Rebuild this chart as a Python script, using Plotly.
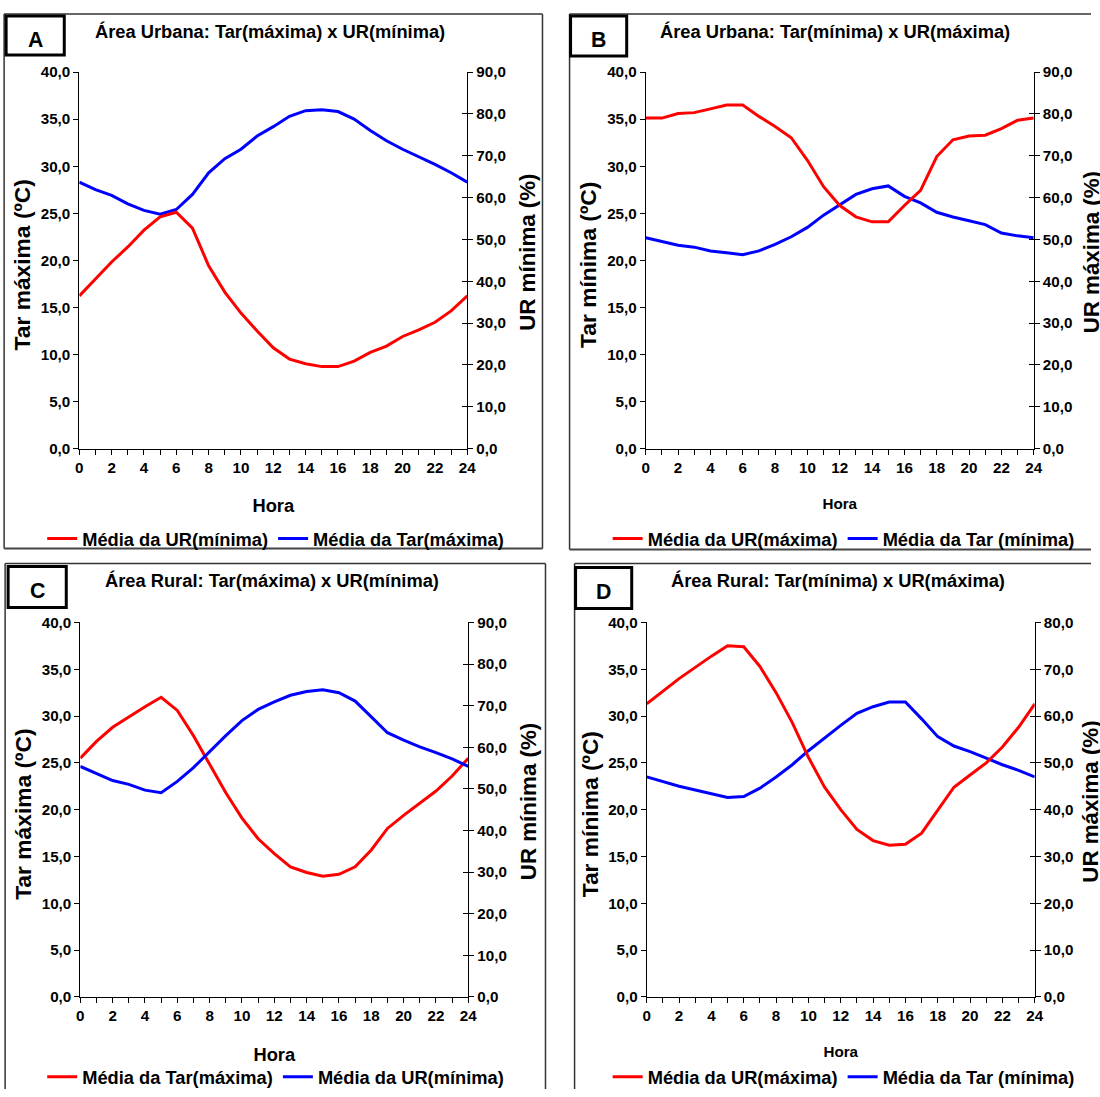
import plotly.graph_objects as go

# Hourly means (hours 0..24)
hours = list(range(25))

# Panel A – urban area: Tar(máxima) in ºC, UR(mínima) in %
a_tar_max = [28.3, 27.5, 26.9, 26.0, 25.3, 24.9, 25.4, 27.0, 29.3, 30.8, 31.8, 33.2, 34.2,
             35.3, 35.9, 36.0, 35.8, 35.0, 33.8, 32.7, 31.8, 31.0, 30.2, 29.3, 28.3]
a_ur_min = [36.5, 40.5, 44.6, 48.2, 52.2, 55.4, 56.5, 52.7, 43.7, 37.4, 32.4, 28.1, 24.1,
            21.4, 20.3, 19.6, 19.6, 20.9, 23.0, 24.5, 26.8, 28.4, 30.2, 32.9, 36.5]

# Panel B – urban area: Tar(mínima) in ºC, UR(máxima) in %
b_tar_min = [22.4, 22.0, 21.6, 21.4, 21.0, 20.8, 20.6, 21.0, 21.7, 22.5, 23.5, 24.8, 25.9,
             27.0, 27.6, 27.9, 26.8, 26.1, 25.1, 24.6, 24.2, 23.8, 22.9, 22.6, 22.4]
b_ur_max = [79.0, 79.0, 80.1, 80.3, 81.2, 82.1, 82.1, 79.4, 77.0, 74.3, 68.9, 62.6, 58.1,
            55.4, 54.2, 54.2, 58.1, 61.7, 69.8, 73.8, 74.7, 74.9, 76.5, 78.5, 79.0]

# Panel C – rural area: Tar(máxima) in ºC, UR(mínima) in %
c_tar_max = [25.5, 27.3, 28.8, 29.9, 31.0, 32.0, 30.6, 27.9, 24.8, 21.8, 19.1, 16.9, 15.3,
             13.9, 13.3, 12.9, 13.1, 13.9, 15.7, 18.0, 19.4, 20.7, 22.0, 23.6, 25.5]
c_ur_min = [55.4, 53.6, 52.0, 51.1, 49.7, 49.1, 51.8, 55.1, 59.0, 62.8, 66.4, 69.1, 70.9,
            72.5, 73.4, 73.8, 73.1, 71.1, 67.3, 63.5, 61.7, 60.1, 58.7, 57.2, 55.4]

# Panel D – rural area: Tar(mínima) in ºC, UR(máxima) in %
d_tar_min = [23.5, 23.0, 22.5, 22.1, 21.7, 21.3, 21.4, 22.3, 23.5, 24.8, 26.3, 27.7, 29.0,
             30.3, 31.0, 31.5, 31.5, 29.7, 27.8, 26.8, 26.2, 25.5, 24.8, 24.2, 23.5]
d_ur_max = [62.6, 65.4, 68.0, 70.4, 72.8, 75.0, 74.8, 70.6, 65.0, 58.6, 51.2, 44.8, 40.0,
            35.8, 33.4, 32.4, 32.6, 35.0, 40.0, 44.8, 47.4, 50.0, 53.4, 57.6, 62.6]

W, H = 1100, 1097
OFF = 8                                  # default body margin around the plot div
SX, SY = W / (W + 2 * OFF), H / (H + 2 * OFF)   # page is shown shrunk to the window
K = 1 / SX                               # size factor for fonts and line widths
FONT = "Liberation Sans, Arial, sans-serif"
RED, BLUE = "#ff0000", "#0000ff"


def fx(px):
    return min(max((px / SX - OFF) / W, 0.0), 1.0)


def fy(py):
    return min(max(1 - (py / SY - OFF) / H, 0.0), 1.0)


def fs(v):
    return round(v * K, 1)


panels = [
    dict(letter="A", title="Área Urbana: Tar(máxima) x UR(mínima)",
         frame=(8, 13, 545, 548), sides="tlrb", box=(10, 15, 68, 54), title_xy=(273, 31),
         plot=(83, 71, 470, 448),
         ltitle="Tar máxima (ºC)", rtitle="UR mínima (%)", rtitle_x=530, rmax=90,
         hora=18, hora_gap=24,
         series=[("Média da UR(mínima)", a_ur_min, RED, "right"),
                 ("Média da Tar(máxima)", a_tar_max, BLUE, "left")],
         legend_x=46, legend_y=538),
    dict(letter="B", title="Área Urbana: Tar(mínima) x UR(máxima)",
         frame=(572, 13, 1110, 549), sides="tlb", box=(573, 15, 629, 55), title_xy=(837, 31),
         plot=(648, 71, 1035, 448),
         ltitle="Tar mínima (ºC)", rtitle="UR máxima (%)", rtitle_x=1094, rmax=90,
         hora=15, hora_gap=23,
         series=[("Média da UR(máxima)", b_ur_max, RED, "right"),
                 ("Média da Tar (mínima)", b_tar_min, BLUE, "left")],
         legend_x=610, legend_y=538),
    dict(letter="C", title="Área Rural: Tar(máxima) x UR(mínima)",
         frame=(9, 563, 548, 1110), sides="tlr", box=(12, 566, 70, 607), title_xy=(275, 581),
         plot=(84, 622, 471, 997),
         ltitle="Tar máxima (ºC)", rtitle="UR mínima (%)", rtitle_x=531, rmax=90,
         hora=18, hora_gap=24,
         series=[("Média da Tar(máxima)", c_tar_max, RED, "left"),
                 ("Média da UR(mínima)", c_ur_min, BLUE, "right")],
         legend_x=46, legend_y=1077),
    dict(letter="D", title="Área Rural: Tar(mínima) x UR(máxima)",
         frame=(577, 563, 1110, 1110), sides="tl", box=(578, 567, 634, 608), title_xy=(840, 581),
         plot=(649, 622, 1036, 997),
         ltitle="Tar mínima (ºC)", rtitle="UR máxima (%)", rtitle_x=1094, rmax=80,
         hora=15, hora_gap=23,
         series=[("Média da UR(máxima)", d_ur_max, RED, "right"),
                 ("Média da Tar (mínima)", d_tar_min, BLUE, "left")],
         legend_x=610, legend_y=1077),
]

fig = go.Figure()
layout = dict(
    width=W, height=H, margin=dict(l=0, r=0, t=0, b=0),
    paper_bgcolor="white", plot_bgcolor="white",
    separators=",.", showlegend=True,
    font=dict(family=FONT, color="black", size=fs(15), weight="bold"),
)
shapes, annotations = [], []

tick_font = dict(family=FONT, size=fs(15), color="black", weight="bold")


def seg(xa, ya, xb, yb, color="#333333", width=1.5):
    return dict(type="line", xref="paper", yref="paper",
                x0=fx(xa), y0=fy(ya), x1=fx(xb), y1=fy(yb),
                line=dict(color=color, width=width), layer="below")


for i, p in enumerate(panels):
    n = 3 * i
    xa = f"xaxis{'' if i == 0 else i + 1}"
    xr = f"x{'' if i == 0 else i + 1}"
    yl_name, yr_name, yi_name = n + 1, n + 2, n + 3
    yl = f"yaxis{'' if yl_name == 1 else yl_name}"
    ylr = f"y{'' if yl_name == 1 else yl_name}"
    yr = f"yaxis{yr_name}"
    yrr = f"y{yr_name}"
    yi = f"yaxis{yi_name}"

    x0, y0, x1, y1 = p["plot"]
    xdom = [fx(x0), fx(x1)]
    ydom = [fy(y1), fy(y0)]

    layout[xa] = dict(domain=xdom, anchor=ylr, range=[0, 24], tick0=0, dtick=2,
                      ticks="outside", ticklen=5, tickcolor="black",
                      showline=True, linecolor="black", linewidth=1,
                      showgrid=False, zeroline=False, tickfont=tick_font,
                      minor=dict(dtick=1, ticks="outside", ticklen=5, tickcolor="black"),
                      title=dict(text="Hora",
                                 font=dict(family=FONT, size=fs(p["hora"]), weight="bold"),
                                 standoff=p["hora_gap"]))
    layout[yl] = dict(domain=ydom, anchor=xr, range=[0, 40], dtick=5, tickformat=".1f",
                      ticks="outside", ticklen=5, tickcolor="black",
                      showline=True, linecolor="black", linewidth=1,
                      showgrid=False, zeroline=False, tickfont=tick_font)
    layout[yr] = dict(domain=ydom, anchor=xr, overlaying=ylr, side="right",
                      range=[0, p["rmax"]], dtick=10, tickformat=".1f",
                      ticks="outside", ticklen=5, tickcolor="black",
                      showline=True, linecolor="black", linewidth=1,
                      showgrid=False, zeroline=False, tickfont=tick_font)
    # inner half of the crossing tick marks on the right axis
    layout[yi] = dict(domain=ydom, anchor=xr, overlaying=ylr, side="right",
                      range=[0, p["rmax"]], dtick=10, ticks="inside", ticklen=5,
                      tickcolor="black", showticklabels=False, showline=False,
                      showgrid=False, zeroline=False)

    leg = "legend" if i == 0 else f"legend{i + 1}"
    layout[leg] = dict(orientation="h", x=fx(p["legend_x"]), y=fy(p["legend_y"]),
                       xanchor="left", yanchor="middle", bgcolor="rgba(0,0,0,0)",
                       borderwidth=0,
                       font=dict(family=FONT, size=fs(18), color="black", weight="bold"),
                       itemwidth=30, tracegroupgap=0, traceorder="normal")

    for name, vals, color, side in p["series"]:
        fig.add_trace(go.Scatter(
            x=hours, y=vals, mode="lines", name=name,
            line=dict(color=color, width=3),
            xaxis=xr, yaxis=ylr if side == "left" else yrr,
            legend=leg,
        ))
    # invisible point that keeps the inner-tick axis drawn
    fig.add_trace(go.Scatter(x=[0], y=[0], xaxis=xr, yaxis=f"y{yi_name}", mode="markers",
                             marker=dict(opacity=0), showlegend=False, hoverinfo="skip"))

    # panel frame (only the sides that lie inside the page)
    fx0, fy0, fx1, fy1 = p["frame"]
    if "t" in p["sides"]:
        shapes.append(seg(fx0, fy0, fx1, fy0))
    if "l" in p["sides"]:
        shapes.append(seg(fx0, fy0, fx0, fy1))
    if "r" in p["sides"]:
        shapes.append(seg(fx1, fy0, fx1, fy1))
    if "b" in p["sides"]:
        shapes.append(seg(fx0, fy1, fx1, fy1, color="#444444", width=2))
    # letter box
    bx0, by0, bx1, by1 = p["box"]
    shapes.append(dict(type="rect", xref="paper", yref="paper",
                       x0=fx(bx0), x1=fx(bx1), y0=fy(by1), y1=fy(by0),
                       line=dict(color="black", width=3), fillcolor="white", layer="above"))
    annotations.append(dict(text=p["letter"], xref="paper", yref="paper",
                            x=fx((bx0 + bx1) / 2), y=fy((by0 + by1) / 2 + 4), showarrow=False,
                            xanchor="center", yanchor="middle",
                            font=dict(family=FONT, size=fs(21), weight="bold")))
    # panel title
    tx, ty = p["title_xy"]
    annotations.append(dict(text=p["title"], xref="paper", yref="paper",
                            x=fx(tx), y=fy(ty - 1), showarrow=False,
                            xanchor="center", yanchor="middle",
                            font=dict(family=FONT, size=fs(18), weight="bold")))
    # axis titles
    annotations.append(dict(text=p["ltitle"], xref="paper", yref="paper", textangle=-90,
                            x=fx(x0 - 57), y=fy((y0 + y1) / 2 + 5), showarrow=False,
                            xanchor="center", yanchor="middle",
                            font=dict(family=FONT, size=fs(22.5), weight="bold")))
    annotations.append(dict(text=p["rtitle"], xref="paper", yref="paper", textangle=-90,
                            x=fx(p["rtitle_x"]), y=fy((y0 + y1) / 2 - 8), showarrow=False,
                            xanchor="center", yanchor="middle",
                            font=dict(family=FONT, size=fs(22), weight="bold")))

layout["shapes"] = shapes
layout["annotations"] = annotations
fig.update_layout(**layout)
fig.write_html("out.html")
